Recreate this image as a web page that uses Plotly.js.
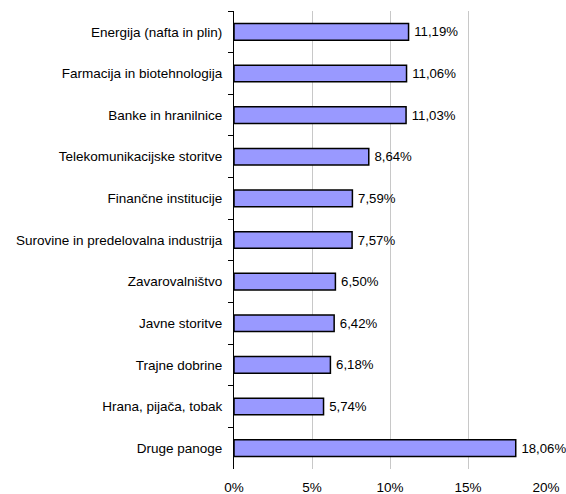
<!DOCTYPE html>
<html>
<head>
<meta charset="utf-8">
<script src="https://cdn.plot.ly/plotly-3.0.1.min.js"></script>
<style>html,body{margin:0;padding:0;background:#fff;}#chart{width:566px;height:494px;}</style>
</head>
<body>
<div id="chart"></div>
<script>
const categories = [
  "Energija (nafta in plin)",
  "Farmacija in biotehnologija",
  "Banke in hranilnice",
  "Telekomunikacijske storitve",
  "Finančne institucije",
  "Surovine in predelovalna industrija",
  "Zavarovalništvo",
  "Javne storitve",
  "Trajne dobrine",
  "Hrana, pijača, tobak",
  "Druge panoge"
];
const values = [11.19, 11.06, 11.03, 8.64, 7.59, 7.57, 6.50, 6.42, 6.18, 5.74, 18.06];
const xTickValues = [0, 5, 10, 15, 20];
const xTickLabels = ["0%", "5%", "10%", "15%", "20%"];

const labels = values.map(v => '\u2009' + v.toFixed(2).replace('.', ',') + '%');

const FONT = 'Liberation Sans, Arial, sans-serif';
const FS = 13.5;

const trace = {
  type: 'bar',
  orientation: 'h',
  x: values,
  y: categories,
  text: labels,
  textposition: 'outside',
  textfont: {family: FONT, size: 13.2, color: '#000'},
  cliponaxis: false,
  width: 0.4,
  marker: {color: '#9999ff', line: {color: '#000', width: 1.5}},
  hoverinfo: 'none'
};

const layout = {
  width: 566,
  height: 494,
  margin: {l: 234, r: 20, t: 11, b: 25, pad: 0},
  paper_bgcolor: '#fff',
  plot_bgcolor: '#fff',
  showlegend: false,
  font: {family: FONT, size: FS, color: '#000'},
  xaxis: {
    range: [0, 20],
    tickvals: xTickValues,
    ticktext: xTickLabels,
    showgrid: true,
    gridcolor: '#c8c8c8',
    gridwidth: 1,
    zeroline: false,
    showline: false,
    ticks: '',
    ticklabelstandoff: 8,
    tickfont: {family: FONT, size: FS},
    fixedrange: true
  },
  yaxis: {
    type: 'category',
    autorange: 'reversed',
    showline: true,
    linecolor: '#000',
    linewidth: 1,
    ticks: 'outside',
    tickson: 'boundaries',
    ticklen: 5,
    tickcolor: '#000',
    tickwidth: 1,
    showgrid: false,
    ticklabelstandoff: 8,
    tickfont: {family: FONT, size: FS},
    fixedrange: true
  },
  bargap: 0.6
};

Plotly.newPlot('chart', [trace], layout, {displayModeBar: false, staticPlot: true});
</script>
</body>
</html>
